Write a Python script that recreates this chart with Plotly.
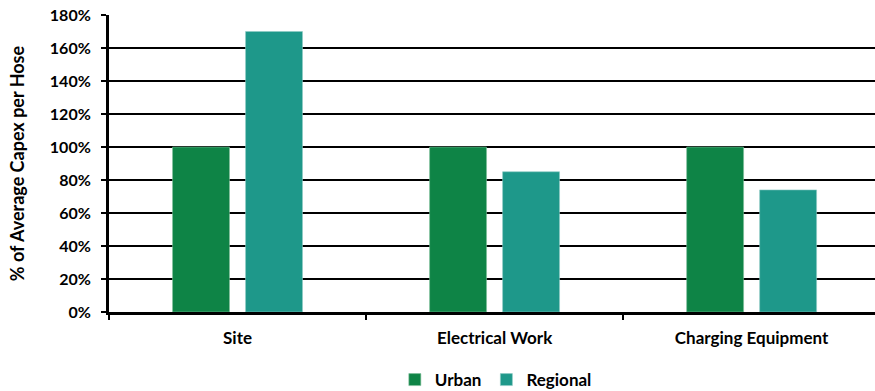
import plotly.graph_objects as go

categories = ["Site", "Electrical Work", "Charging Equipment"]
urban = [100, 100, 100]
regional = [170, 85, 74]
y_ticks = [0, 20, 40, 60, 80, 100, 120, 140, 160, 180]
y_tick_labels = [f"{v}%" for v in y_ticks]

font_family = "Lato, Carlito, Calibri, sans-serif"

fig = go.Figure()
fig.add_trace(go.Bar(name="Urban", x=categories, y=urban,
                     marker=dict(color="#0E8446", line=dict(color="#7FBF9A", width=0.6))))
fig.add_trace(go.Bar(name="Regional", x=categories, y=regional,
                     marker=dict(color="#1E988A", line=dict(color="#8FCBC4", width=0.6))))

fig.update_layout(
    width=875, height=391,
    margin=dict(l=109, r=0, t=15, b=79, autoexpand=False),
    paper_bgcolor="white", plot_bgcolor="white",
    barmode="group", bargap=0.432, bargroupgap=0.22,
    font=dict(family=font_family, size=16, color="black"),
    showlegend=True,
    legend=dict(orientation="h", x=0.505, xanchor="center",
                yref="container", y=0.028, yanchor="middle",
                font=dict(family=font_family, size=17, color="black", weight="bold"),
                itemwidth=30, tracegroupgap=0, traceorder="normal"),
)
fig.update_xaxes(
    range=[-0.5, 2.48],
    showline=True, linecolor="black", linewidth=2.5,
    ticks="outside", tickson="boundaries", ticklen=5, tickwidth=2, tickcolor="black",
    ticklabelstandoff=9,
    tickfont=dict(family=font_family, size=17, color="black", weight="bold"),
    showgrid=False,
)
fig.update_yaxes(
    range=[0, 180], tickvals=y_ticks, ticktext=y_tick_labels,
    showline=True, linecolor="black", linewidth=3,
    ticks="outside", ticklen=5, tickwidth=2, tickcolor="black",
    ticklabelstandoff=7,
    showgrid=True, gridcolor="black", gridwidth=1.5,
    tickfont=dict(family=font_family, size=16, color="black", weight="bold"),
    title=dict(text="% of Average Capex per Hose", standoff=21,
               font=dict(family=font_family, size=18, color="black", weight="bold")),
    zeroline=False,
)

fig.write_html("out.html")
